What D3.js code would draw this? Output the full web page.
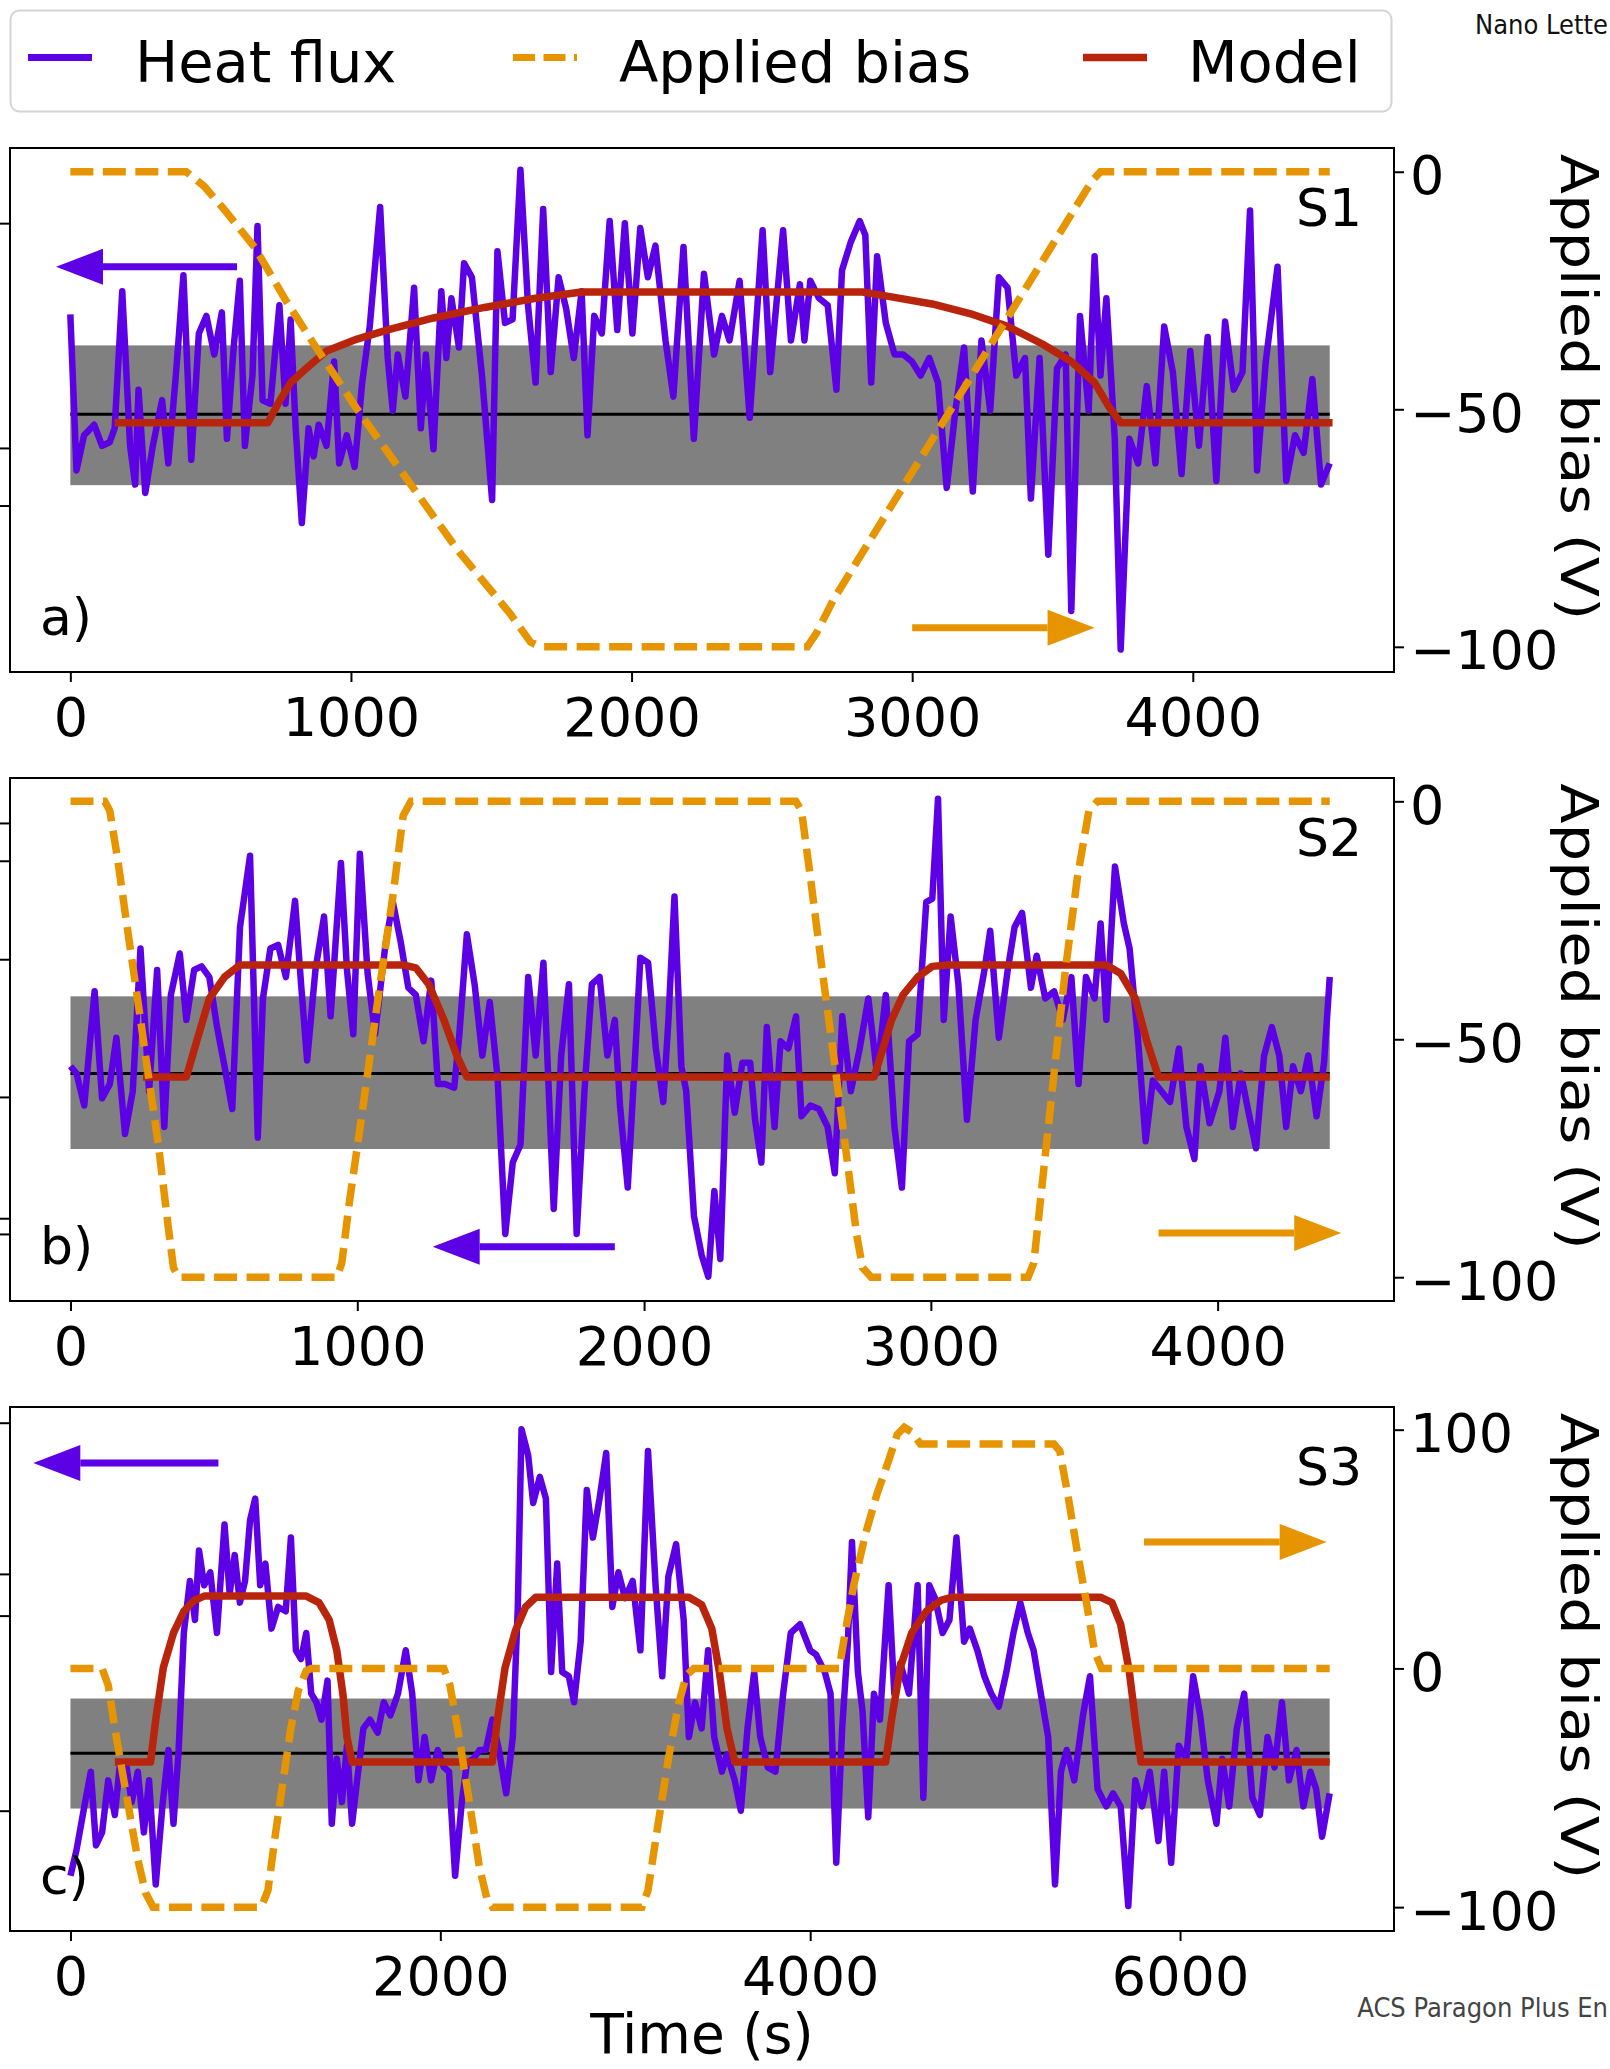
<!DOCTYPE html>
<html>
<head>
<meta charset="utf-8">
<script src="https://cdn.jsdelivr.net/npm/d3@7"></script>
<style>
  body { margin: 0; background: #fff; }
  svg { display: block; font-family: "DejaVu Sans", sans-serif; }
</style>
</head>
<body>
<svg id="fig" width="1610" height="2069"></svg>
<script>
// series names for the legend
const seriesNames = ["Heat flux", "Applied bias", "Model"];

// ---- panel a (S1): [time s, heat flux (rel. units, band = +-1 sigma ~ 100)]
const fluxA = [[0,142],[22,-80],[49,-30],[85,-15],[113,-45],[140,-40],[158,-20],[185,175],[213,-45],[231,-100],[243,35],[267,-112],[294,-45],[327,20],[349,-70],[376,55],[403,198],[431,-65],[458,115],[485,140],[513,85],[540,145],[558,-35],[582,95],[604,190],[622,-45],[649,55],[667,268],[685,20],[713,15],[745,155],[767,15],[785,135],[803,-20],[825,-155],[849,-20],[867,-60],[885,-15],[913,-45],[940,75],[958,-70],[985,-30],[1013,-75],[1040,45],[1067,125],[1104,295],[1131,80],[1149,5],[1167,85],[1194,25],[1225,180],[1249,-20],[1267,85],[1294,-50],[1322,175],[1340,80],[1358,165],[1385,95],[1403,215],[1431,195],[1467,55],[1503,-122],[1522,232],[1549,130],[1576,135],[1604,348],[1631,155],[1658,45],[1685,292],[1712,60],[1740,195],[1767,150],[1794,80],[1822,175],[1843,-30],[1867,140],[1894,115],[1922,275],[1949,120],[1976,272],[2003,115],[2031,265],[2058,195],[2085,240],[2121,105],[2149,25],[2185,238],[2222,-35],[2258,200],[2294,85],[2322,140],[2349,105],[2385,190],[2421,-5],[2467,262],[2494,60],[2540,262],[2568,105],[2600,185],[2616,105],[2637,190],[2668,165],[2699,155],[2730,35],[2750,205],[2781,245],[2813,275],[2833,255],[2854,45],[2875,225],[2906,130],[2937,85],[2968,85],[2999,75],[3030,55],[3061,80],[3092,45],[3123,-105],[3154,5],[3185,95],[3216,-110],[3247,105],[3278,5],[3309,195],[3340,180],[3371,55],[3402,80],[3423,-120],[3454,80],[3485,-200],[3516,65],[3547,85],[3567,-280],[3598,140],[3629,5],[3650,225],[3671,55],[3692,165],[3722,-35],[3743,-335],[3774,-35],[3805,-70],[3836,40],[3867,-70],[3898,125],[3929,60],[3960,-85],[3991,90],[4022,-45],[4053,110],[4084,-95],[4115,132],[4146,35],[4177,60],[4204,290],[4229,-80],[4260,75],[4302,210],[4333,-95],[4364,-30],[4395,-55],[4426,50],[4457,-100],[4488,-70]];
const modelA = [[158,-12],[704,-12],[740,15],[785,45],[840,65],[913,90],[1022,107],[1131,120],[1294,137],[1476,152],[1658,165],[1822,174],[2823,174],[2926,167],[3071,157],[3216,142],[3340,125],[3464,100],[3567,75],[3650,45],[3702,10],[3743,-12],[4498,-12]];
const biasA = [[0,0],[413,0],[476,-3],[549,-8],[658,-16],[767,-27],[876,-37],[1022,-50],[1203,-65],[1385,-80],[1567,-93],[1640,-99],[1676,-100],[2626,-100],[2660,-97],[2720,-90],[3640,-2],[3671,0],[4488,0]];
const bandA = [-101, 98];
const leftTicksA = [272, -48, -130];
const xTicksA = [0, 1000, 2000, 3000, 4000];
const biasTicksA = [0, -50, -100];

// ---- panel b (S2)
const fluxB = [[0,10],[21,0],[48,-45],[84,115],[110,-35],[137,-15],[160,50],[190,-85],[217,-25],[244,175],[274,-25],[302,145],[327,-75],[350,110],[381,168],[404,75],[431,145],[457,150],[484,135],[511,65],[537,10],[564,-50],[591,205],[626,305],[653,-90],[671,105],[697,175],[724,180],[751,135],[783,242],[804,125],[825,18],[854,145],[884,220],[907,80],[943,295],[964,145],[986,55],[1009,308],[1036,140],[1062,55],[1098,180],[1124,240],[1151,185],[1178,120],[1204,110],[1231,45],[1258,130],[1281,-15],[1306,-15],[1338,-20],[1356,55],[1382,195],[1409,125],[1436,25],[1462,100],[1489,-5],[1516,-225],[1542,-125],[1569,-100],[1596,135],[1622,25],[1649,155],[1685,-190],[1711,25],[1738,125],[1765,-225],[1792,-25],[1818,125],[1845,135],[1872,25],[1898,75],[1916,-45],[1943,-160],[1969,25],[1987,162],[2014,155],[2041,35],[2067,-40],[2085,75],[2106,248],[2130,10],[2147,-25],[2174,-200],[2201,-255],[2224,-285],[2245,-165],[2266,-260],[2290,25],[2316,-55],[2343,15],[2370,15],[2387,-65],[2409,-125],[2428,65],[2455,-75],[2476,45],[2503,35],[2530,80],[2549,-60],[2580,-45],[2610,-50],[2640,-75],[2665,-140],[2691,80],[2721,-25],[2752,35],[2782,105],[2812,0],[2843,110],[2873,-75],[2899,-160],[2924,45],[2954,55],[2984,240],[3005,245],[3025,385],[3045,75],[3069,220],[3096,125],[3126,-65],[3156,75],[3187,145],[3207,200],[3237,50],[3268,145],[3292,205],[3318,225],[3349,120],[3369,165],[3399,105],[3430,115],[3460,75],[3490,135],[3515,-15],[3541,135],[3571,105],[3592,210],[3612,75],[3642,290],[3673,210],[3693,175],[3723,45],[3749,-95],[3774,-10],[3804,-25],[3834,-40],[3865,35],[3891,-75],[3919,-120],[3940,10],[3972,-70],[4006,-25],[4027,50],[4053,-75],[4081,0],[4108,-55],[4134,-105],[4162,25],[4189,65],[4215,25],[4239,-75],[4263,10],[4290,-25],[4316,25],[4345,-60],[4371,15],[4391,135]];
const modelB = [[253,-5],[404,-5],[440,45],[484,105],[537,135],[591,152],[1160,152],[1204,148],[1249,125],[1302,75],[1347,25],[1382,-5],[2802,-5],[2833,35],[2863,75],[2903,110],[2954,135],[3005,150],[3060,152],[3612,152],[3662,140],[3713,105],[3753,45],[3794,-5],[4391,-5]];
const biasB = [[0,0],[119,0],[137,-2],[164,-12],[199,-27],[235,-42],[270,-57],[306,-72],[342,-90],[359,-98],[377,-100],[929,-100],[946,-97],[973,-84],[1018,-65],[1071,-42],[1124,-20],[1160,-3],[1187,0],[2529,0],[2549,-2],[2580,-16],[2620,-35],[2660,-53],[2701,-72],[2741,-91],[2762,-98],[2792,-100],[3339,-100],[3359,-97],[3389,-80],[3430,-57],[3470,-35],[3511,-16],[3551,-2],[3581,0],[4391,0]];
const bandB = [-106, 108];
const leftTicksB = [351, 298, 160, -33, -203, -225];
const xTicksB = [0, 1000, 2000, 3000, 4000];
const biasTicksB = [0, -50, -100];

// ---- panel c (S3)
const fluxC = [[0,-226],[33,-178],[75,-98],[110,-34],[138,-170],[171,-146],[204,-50],[240,-114],[268,-18],[304,-26],[331,-90],[364,-34],[397,-146],[425,-50],[461,-242],[497,-98],[530,6],[557,-130],[585,6],[613,222],[646,318],[673,246],[695,374],[723,310],[756,334],[792,222],[833,422],[861,294],[888,366],[916,278],[944,318],[971,430],[999,470],[1026,310],[1054,350],[1087,230],[1123,270],[1164,262],[1192,398],[1219,190],[1247,174],[1275,222],[1302,110],[1330,94],[1357,62],[1390,134],[1413,-130],[1440,-10],[1468,-90],[1495,14],[1523,-130],[1550,-50],[1584,46],[1619,62],[1661,38],[1694,94],[1730,70],[1771,110],[1813,190],[1848,110],[1882,-50],[1915,30],[1950,-50],[1986,6],[2019,-26],[2047,-34],[2080,-226],[2116,-90],[2144,-18],[2179,-10],[2212,6],[2246,6],[2281,62],[2317,6],[2356,-74],[2392,30],[2419,270],[2439,598],[2475,550],[2502,462],[2538,510],[2571,470],[2599,150],[2632,350],[2659,150],[2695,142],[2723,94],[2759,206],[2792,486],[2825,398],[2861,470],[2897,554],[2930,270],[2963,334],[2999,286],[3040,318],[3082,190],[3123,558],[3164,310],[3200,142],[3233,326],[3275,386],[3316,246],[3344,30],[3377,94],[3413,46],[3448,190],[3481,30],[3523,-34],[3550,-2],[3592,-50],[3625,-106],[3661,46],[3697,150],[3730,30],[3771,-26],[3812,-34],[3854,110],[3895,222],[3945,238],[4000,190],[4032,182],[4079,150],[4110,110],[4141,-202],[4173,46],[4204,206],[4226,390],[4258,150],[4283,78],[4314,-118],[4345,110],[4377,62],[4424,310],[4455,110],[4487,166],[4534,110],[4581,310],[4612,-82],[4644,310],[4675,286],[4716,222],[4753,246],[4791,398],[4832,206],[4863,230],[4904,190],[4942,142],[4979,110],[5020,86],[5061,150],[5099,222],[5136,278],[5177,222],[5208,190],[5255,94],[5287,30],[5324,-242],[5356,-34],[5387,6],[5428,-50],[5475,70],[5513,142],[5554,-66],[5601,-98],[5638,-74],[5679,-98],[5720,-282],[5758,-50],[5795,-98],[5836,-34],[5883,-162],[5914,-34],[5952,-202],[5993,14],[6034,-10],[6071,142],[6109,70],[6150,-50],[6197,-130],[6228,-10],[6266,-98],[6307,46],[6347,110],[6391,-82],[6432,-114],[6473,30],[6511,-26],[6551,94],[6589,-50],[6630,6],[6667,-98],[6705,-34],[6736,-66],[6768,-154],[6809,-74]];
const modelC = [[240,-16],[433,-16],[461,62],[502,158],[557,222],[613,262],[668,282],[723,290],[1275,290],[1344,278],[1399,246],[1440,190],[1473,110],[1495,30],[1523,-16],[2281,-16],[2309,62],[2350,158],[2406,226],[2461,270],[2516,288],[3344,288],[3413,274],[3468,230],[3509,150],[3550,46],[3592,-16],[4408,-16],[4440,62],[4487,158],[4549,222],[4628,262],[4706,282],[4769,288],[5569,288],[5632,278],[5679,238],[5726,150],[5758,62],[5789,-16],[6809,-16]];
const biasC = [[0,0],[171,0],[204,-7],[240,-25],[282,-44],[323,-62],[364,-80],[406,-94],[447,-100],[1032,-100],[1068,-93],[1109,-69],[1150,-47],[1192,-25],[1233,-9],[1275,-1],[1302,0],[2019,0],[2052,-7],[2102,-29],[2157,-56],[2213,-84],[2254,-97],[2282,-100],[3090,-100],[3123,-93],[3178,-65],[3233,-38],[3288,-15],[3330,-3],[3371,0],[4157,0],[4189,15],[4236,35],[4298,56],[4361,73],[4424,87],[4471,98],[4509,101],[4549,99],[4596,94],[5318,94],[5350,91],[5397,71],[5444,49],[5491,29],[5538,7],[5576,0],[6809,0]];
const bandC = [-102, 101];
const leftTicksC = [610, 331, 254, -106];
const xTicksC = [0, 2000, 4000, 6000];
const biasTicksC = [100, 0, -100];

// arrows: [tail time, tip time, bias value, series]
const arrowsA = [[594, -51, -20, "flux"], [3000, 3650, -96, "bias"]];
const arrowsB = [[1898, 1263, -93.6, "flux"], [3794, 4431, -90.7, "bias"]];
const arrowsC = [[800, -201, 86, "flux"], [5805, 6793, 53, "bias"]];

const colors = { flux: "#5c00e6", bias: "#e69500", model: "#b8240c" };

const svg = d3.select("#fig");
svg.append("rect").attr("width", 1610).attr("height", 2069).attr("fill", "#fff");

const left = 10, right = 1394;

const panels = [
  { label: "a)", tag: "S1", top: 148, bottom: 672, xDom: [-215, 4717], fDom: [-367, 379], bDom: [-105.3, 5],
    flux: fluxA, model: modelA, bias: biasA, band: bandA, lt: leftTicksA, xt: xTicksA, bt: biasTicksA, arrows: arrowsA },
  { label: "b)", tag: "S2", top: 778, bottom: 1301, xDom: [-211, 4615], fDom: [-319, 414], bDom: [-105, 4.9],
    flux: fluxB, model: modelB, bias: biasB, band: bandB, lt: leftTicksB, xt: xTicksB, bt: biasTicksB, arrows: arrowsB },
  { label: "c)", tag: "S3", top: 1407, bottom: 1931, xDom: [-327, 7157], fDom: [-328, 639], bDom: [-110, 109.5],
    flux: fluxC, model: modelC, bias: biasC, band: bandC, lt: leftTicksC, xt: xTicksC, bt: biasTicksC, arrows: arrowsC }
];

panels.forEach((p, i) => {
  const x = d3.scaleLinear().domain(p.xDom).range([left, right]);
  const yF = d3.scaleLinear().domain(p.fDom).range([p.bottom, p.top]);
  const yB = d3.scaleLinear().domain(p.bDom).range([p.bottom, p.top]);
  const tEnd = p.flux[p.flux.length - 1][0];

  svg.append("clipPath").attr("id", "clip" + i)
    .append("rect").attr("x", left).attr("y", p.top)
    .attr("width", right - left).attr("height", p.bottom - p.top);

  const g = svg.append("g").attr("clip-path", `url(#clip${i})`);

  // +-sigma band and mean line
  g.append("rect")
    .attr("x", x(0)).attr("width", x(tEnd) - x(0))
    .attr("y", yF(p.band[1])).attr("height", yF(p.band[0]) - yF(p.band[1]))
    .attr("fill", "#808080");
  g.append("line")
    .attr("x1", x(0)).attr("x2", x(tEnd))
    .attr("y1", yF(0)).attr("y2", yF(0))
    .attr("stroke", "#000").attr("stroke-width", 3);

  const lineF = d3.line().x(d => x(d[0])).y(d => yF(d[1]));
  const lineB = d3.line().x(d => x(d[0])).y(d => yB(d[1]));

  g.append("path").datum(p.flux).attr("d", lineF)
    .attr("fill", "none").attr("stroke", colors.flux)
    .attr("stroke-width", 6.5).attr("stroke-linejoin", "round");
  g.append("path").datum(p.model).attr("d", lineF)
    .attr("fill", "none").attr("stroke", colors.model)
    .attr("stroke-width", 7.5).attr("stroke-linejoin", "round");
  g.append("path").datum(p.bias).attr("d", lineB)
    .attr("fill", "none").attr("stroke", colors.bias)
    .attr("stroke-width", 7.5).attr("stroke-dasharray", "23,9.5");

  // arrows pointing to the relevant axis
  p.arrows.forEach(a => {
    const x0 = x(a[0]), x1 = x(a[1]), yy = yB(a[2]);
    const dir = Math.sign(x1 - x0), head = 47, hw = 18;
    const c = colors[a[3]];
    g.append("line").attr("x1", x0).attr("x2", x1 - dir * head)
      .attr("y1", yy).attr("y2", yy)
      .attr("stroke", c).attr("stroke-width", 7);
    g.append("path")
      .attr("d", `M${x1},${yy}L${x1 - dir * head},${yy - hw}L${x1 - dir * head},${yy + hw}Z`)
      .attr("fill", c);
  });

  // frame
  svg.append("rect").attr("x", left).attr("y", p.top)
    .attr("width", right - left).attr("height", p.bottom - p.top)
    .attr("fill", "none").attr("stroke", "#000").attr("stroke-width", 2);

  // bottom axis
  const ax = svg.append("g").attr("transform", `translate(0,${p.bottom})`)
    .call(d3.axisBottom(x).tickValues(p.xt).tickSize(10).tickPadding(16).tickFormat(d3.format("d")));
  // right axis
  const ar = svg.append("g").attr("transform", `translate(${right},0)`)
    .call(d3.axisRight(yB).tickValues(p.bt).tickSize(10).tickPadding(6).tickFormat(d3.format("d")));
  ar.selectAll("text").attr("dy", "0.41em");
  // left axis (labels cut off in the figure)
  const al = svg.append("g").attr("transform", `translate(${left},0)`)
    .call(d3.axisLeft(yF).tickValues(p.lt).tickSize(10).tickFormat(""));
  [ax, ar, al].forEach(a => {
    a.attr("font-family", "DejaVu Sans").attr("font-size", 54);
    a.select(".domain").remove();
    a.selectAll(".tick line").attr("stroke", "#000").attr("stroke-width", 2);
    a.selectAll(".tick text").attr("fill", "#000");
  });

  // right axis title (slightly squeezed across, as in the figure)
  svg.append("text")
    .attr("transform", `translate(1561,${(p.top + p.bottom) / 2 - 23}) rotate(90) scale(1,0.88)`)
    .attr("text-anchor", "middle").attr("font-size", 59)
    .text("Applied bias (V)");

  svg.append("text").attr("x", 40).attr("y", p.bottom - 37)
    .attr("font-size", 52).text(p.label);
  svg.append("text").attr("x", 1362).attr("y", p.top + 78)
    .attr("text-anchor", "end").attr("font-size", 52).text(p.tag);
});

svg.append("text").attr("x", 702).attr("y", 2053)
  .attr("text-anchor", "middle").attr("font-size", 55).text("Time (s)");

// legend
const lg = svg.append("g");
lg.append("rect").attr("x", 10.5).attr("y", 10.5).attr("width", 1381).attr("height", 101)
  .attr("rx", 9).attr("fill", "#fff").attr("stroke", "#d4d4d4").attr("stroke-width", 2);
const handleX = [28, 513, 1083], textX = [135, 619, 1188];
const keys = ["flux", "bias", "model"];
seriesNames.forEach((name, i) => {
  const l = lg.append("line").attr("x1", handleX[i]).attr("x2", handleX[i] + 64)
    .attr("y1", 57.5).attr("y2", 57.5)
    .attr("stroke", colors[keys[i]]).attr("stroke-width", keys[i] === "model" ? 7.5 : 7);
  if (keys[i] === "bias") l.attr("stroke-dasharray", "22,8.5");
  lg.append("text").attr("x", textX[i]).attr("y", 81.5)
    .attr("font-size", 57.5).text(name);
});

// page furniture from the journal proof (truncated at the page edge in the source)
svg.append("text").attr("x", 1608).attr("y", 34).attr("text-anchor", "end")
  .attr("font-family", "'Liberation Sans Narrow', 'DejaVu Sans Condensed', sans-serif")
  .attr("font-size", 27).attr("fill", "#111").text("Nano Lette");
svg.append("text").attr("x", 1608).attr("y", 2017).attr("text-anchor", "end")
  .attr("font-family", "'Liberation Sans Narrow', 'DejaVu Sans Condensed', sans-serif")
  .attr("font-size", 27).attr("fill", "#444").text("ACS Paragon Plus En");
</script>
</body>
</html>
